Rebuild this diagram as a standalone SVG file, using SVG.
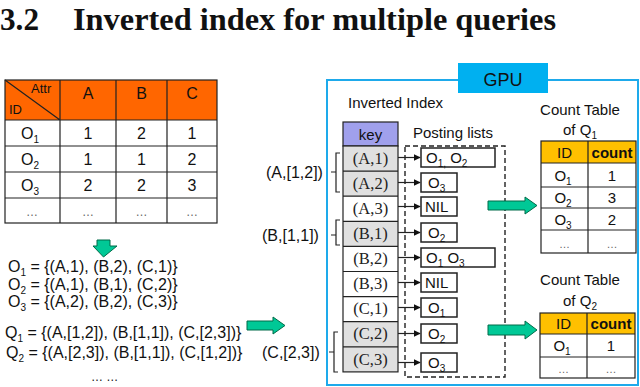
<svg xmlns="http://www.w3.org/2000/svg" width="640" height="387" viewBox="0 0 640 387">
<defs>
<style>
.s{font-family:"Liberation Sans",Arial,sans-serif;fill:#111}
.r{font-family:"Liberation Serif","Times New Roman",serif;fill:#222}
.t{font-family:"Liberation Serif","Times New Roman",serif;font-weight:bold;font-size:32px;fill:#111}
.ln{stroke:#222;stroke-width:1.2;fill:none}
.cell{stroke:#222;stroke-width:1.2}
.pbox{fill:#fff;stroke:#222;stroke-width:1.5}
.grn{fill:#00C896;stroke:#006b48;stroke-width:1}
.dash{fill:none;stroke:#222;stroke-width:1.4;stroke-dasharray:5 3}
</style>
<marker id="ah" viewBox="0 0 10 10" refX="9" refY="5" markerWidth="7" markerHeight="7" orient="auto" markerUnits="userSpaceOnUse">
<path d="M0,0 L10,5 L0,10 z" fill="#111"/>
</marker>
</defs>
<rect width="640" height="387" fill="#fff"/>

<text class="t" x="0" y="29.5" textLength="39" lengthAdjust="spacingAndGlyphs">3.2</text>
<text class="t" x="73" y="29.5" textLength="483" lengthAdjust="spacingAndGlyphs">Inverted index for multiple queries</text>

<g id="data-table">
<rect x="5" y="80" width="212" height="40" fill="#FF6600"/>
<rect x="5" y="80" width="212" height="143" fill="none" class="cell"/>
<path class="ln" d="M60,80V223M116,80V223M167,80V223M5,120H217M5,146H217M5,172H217M5,198H217M5,80L60,120"/>
<text class="s" x="31" y="93" font-size="13">Attr</text>
<text class="s" x="9" y="114" font-size="13">ID</text>
<g class="s" font-size="16" text-anchor="middle">
<text x="88" y="99">A</text><text x="141.5" y="99">B</text><text x="192" y="99">C</text>
<text x="30" y="139">O<tspan font-size="10" dy="4">1</tspan></text>
<text x="88" y="139">1</text><text x="141.5" y="139">2</text><text x="192" y="139">1</text>
<text x="30" y="165">O<tspan font-size="10" dy="4">2</tspan></text>
<text x="88" y="165">1</text><text x="141.5" y="165">1</text><text x="192" y="165">2</text>
<text x="30" y="191">O<tspan font-size="10" dy="4">3</tspan></text>
<text x="88" y="191">2</text><text x="141.5" y="191">2</text><text x="192" y="191">3</text>
<text x="32" y="216" font-size="12" fill="#666">…</text><text x="88" y="216" font-size="12" fill="#666">…</text><text x="141.5" y="216" font-size="12" fill="#666">…</text><text x="192" y="216" font-size="12" fill="#666">…</text>
</g>
</g>

<g id="sets">
<g class="s" font-size="16">
<text x="8" y="272">O<tspan font-size="10" dy="4">1</tspan><tspan dy="-4"> = {(A,1), (B,2), (C,1)}</tspan></text>
<text x="8" y="290">O<tspan font-size="10" dy="4">2</tspan><tspan dy="-4"> = {(A,1), (B,1), (C,2)}</tspan></text>
<text x="8" y="307">O<tspan font-size="10" dy="4">3</tspan><tspan dy="-4"> = {(A,2), (B,2), (C,3)}</tspan></text>
<text x="5" y="338">Q<tspan font-size="10" dy="4">1</tspan><tspan dy="-4"> = {(A,[1,2]), (B,[1,1]), (C,[2,3])}</tspan></text>
<text x="6" y="358">Q<tspan font-size="10" dy="4">2</tspan><tspan dy="-4"> = {(A,[2,3]), (B,[1,1]), (C,[1,2])}</tspan></text>
<text x="91" y="381" font-size="12">…  …</text>
</g>
</g>

<g id="gpu">
<rect x="327" y="80" width="311" height="305" fill="none" stroke="#1EAAEB" stroke-width="2"/>
<rect x="458" y="63" width="90" height="30" fill="#00B0F0"/>
<text class="s" x="503" y="86" font-size="18" text-anchor="middle">GPU</text>
<text class="s" x="348" y="108" font-size="15">Inverted Index</text>
<text class="s" x="413" y="138" font-size="15">Posting lists</text>
</g>

<g id="key-column">
<rect x="343" y="122" width="55" height="24" fill="#A0A0EC" class="cell"/>
<text class="s" x="370.5" y="140" font-size="15" text-anchor="middle">key</text>
<rect x="343" y="146" width="55" height="50.2" fill="#E0E0E0"/>
<rect x="343" y="221.3" width="55" height="25.1" fill="#E0E0E0"/>
<rect x="343" y="321.7" width="55" height="50.2" fill="#E0E0E0"/>
<rect x="343" y="146" width="55" height="225.9" fill="none" class="cell"/>
<path class="ln" d="M343,171.1H398M343,196.2H398M343,221.3H398M343,246.4H398M343,271.5H398M343,296.6H398M343,321.7H398M343,346.8H398"/>
<g class="r" font-size="16.5" text-anchor="middle">
<text x="370.5" y="164">(A,1)</text>
<text x="370.5" y="189">(A,2)</text>
<text x="370.5" y="214">(A,3)</text>
<text x="370.5" y="239">(B,1)</text>
<text x="370.5" y="264">(B,2)</text>
<text x="370.5" y="289">(B,3)</text>
<text x="370.5" y="314">(C,1)</text>
<text x="370.5" y="339">(C,2)</text>
<text x="370.5" y="365">(C,3)</text>
</g>
</g>

<g id="posting-lists">
<rect x="405" y="146" width="100" height="231" class="dash"/>
<rect x="421" y="148" width="74" height="19" class="pbox"/>
<rect x="421" y="173" width="36" height="19" class="pbox"/>
<rect x="421" y="197" width="36" height="19" class="pbox"/>
<rect x="421" y="223" width="36" height="19" class="pbox"/>
<rect x="421" y="248" width="74" height="19" class="pbox"/>
<rect x="421" y="273" width="36" height="19" class="pbox"/>
<rect x="421" y="298" width="36" height="19" class="pbox"/>
<rect x="421" y="324" width="36" height="19" class="pbox"/>
<rect x="421" y="353" width="36" height="19" class="pbox"/>
<g class="s" font-size="15">
<text x="426" y="163">O<tspan font-size="10" dy="4">1,</tspan><tspan dy="-4"> O</tspan><tspan font-size="10" dy="4">2</tspan></text>
<text x="428" y="188">O<tspan font-size="10" dy="4">3</tspan></text>
<text x="425" y="212">NIL</text>
<text x="428" y="238">O<tspan font-size="10" dy="4">2</tspan></text>
<text x="426" y="263">O<tspan font-size="10" dy="4">1</tspan><tspan dy="-4">  O</tspan><tspan font-size="10" dy="4">3</tspan></text>
<text x="425" y="288">NIL</text>
<text x="428" y="313">O<tspan font-size="10" dy="4">1</tspan></text>
<text x="428" y="339">O<tspan font-size="10" dy="4">2</tspan></text>
<text x="428" y="368">O<tspan font-size="10" dy="4">3</tspan></text>
</g>
</g>

<g id="connectors">
<g class="ln" marker-end="url(#ah)">
<path d="M398,157.5H420"/>
<path d="M398,182.5H420"/>
<path d="M398,206.5H420"/>
<path d="M398,232.5H420"/>
<path d="M398,257.5H420"/>
<path d="M398,282.5H420"/>
<path d="M398,307.5H420"/>
<path d="M398,333.5H420"/>
<path d="M398,362.5H420"/>
</g>
<path class="ln" d="M340,153H336V192H340M336,172H331"/>
<path class="ln" d="M340,220H336V245H340M336,235H331"/>
<path class="ln" d="M338,332H334V372H338M334,352H329"/>
<path class="grn" d="M97,240H110V246H117L103.5,257L93,246H97Z"/>
<path class="grn" d="M247,321H273V317L285,325.5L273,334V330H247Z"/>
<path class="grn" d="M488,201H525V197L537,205.5L525,214V210H488Z"/>
<path class="grn" d="M488,325H525V321L537,330L525,339V335H488Z"/>
</g>

<g id="bracket-labels" class="s" font-size="16">
<text x="266" y="178">(A,[1,2])</text>
<text x="262" y="241">(B,[1,1])</text>
<text x="262" y="358">(C,[2,3])</text>
</g>

<g id="count-q1">
<text class="s" x="580" y="115" font-size="15" text-anchor="middle">Count Table</text>
<text class="s" x="580" y="135" font-size="15" text-anchor="middle">of Q<tspan font-size="10" dy="4">1</tspan></text>
<rect x="541" y="141" width="95" height="22" fill="#FFC000"/>
<rect x="541" y="141" width="95" height="112" fill="none" class="cell"/>
<path class="ln" d="M588,141V253M541,163H636M541,187H636M541,208H636M541,230H636"/>
<g class="s" font-size="15" text-anchor="middle">
<text x="564.5" y="158">ID</text>
<text x="612" y="158" font-weight="bold">count</text>
<text x="563" y="181">O<tspan font-size="10" dy="4">1</tspan></text><text x="612" y="181">1</text>
<text x="563" y="203">O<tspan font-size="10" dy="4">2</tspan></text><text x="612" y="203">3</text>
<text x="563" y="225">O<tspan font-size="10" dy="4">3</tspan></text><text x="612" y="225">2</text>
<text x="564.5" y="248" font-size="11" fill="#666">…</text><text x="612" y="248" font-size="11" fill="#666">…</text>
</g>
</g>

<g id="count-q2">
<text class="s" x="580" y="285" font-size="15" text-anchor="middle">Count Table</text>
<text class="s" x="580" y="306" font-size="15" text-anchor="middle">of Q<tspan font-size="10" dy="4">2</tspan></text>
<rect x="540" y="313" width="95" height="21" fill="#FFC000"/>
<rect x="540" y="313" width="95" height="65" fill="none" class="cell"/>
<path class="ln" d="M587,313V378M540,334H635M540,357H635"/>
<g class="s" font-size="15" text-anchor="middle">
<text x="563.5" y="329">ID</text>
<text x="611" y="329" font-weight="bold">count</text>
<text x="562" y="351">O<tspan font-size="10" dy="4">1</tspan></text><text x="611" y="351">1</text>
<text x="563.5" y="373" font-size="11" fill="#666">…</text><text x="611" y="373" font-size="11" fill="#666">…</text>
</g>
</g>
</svg>
